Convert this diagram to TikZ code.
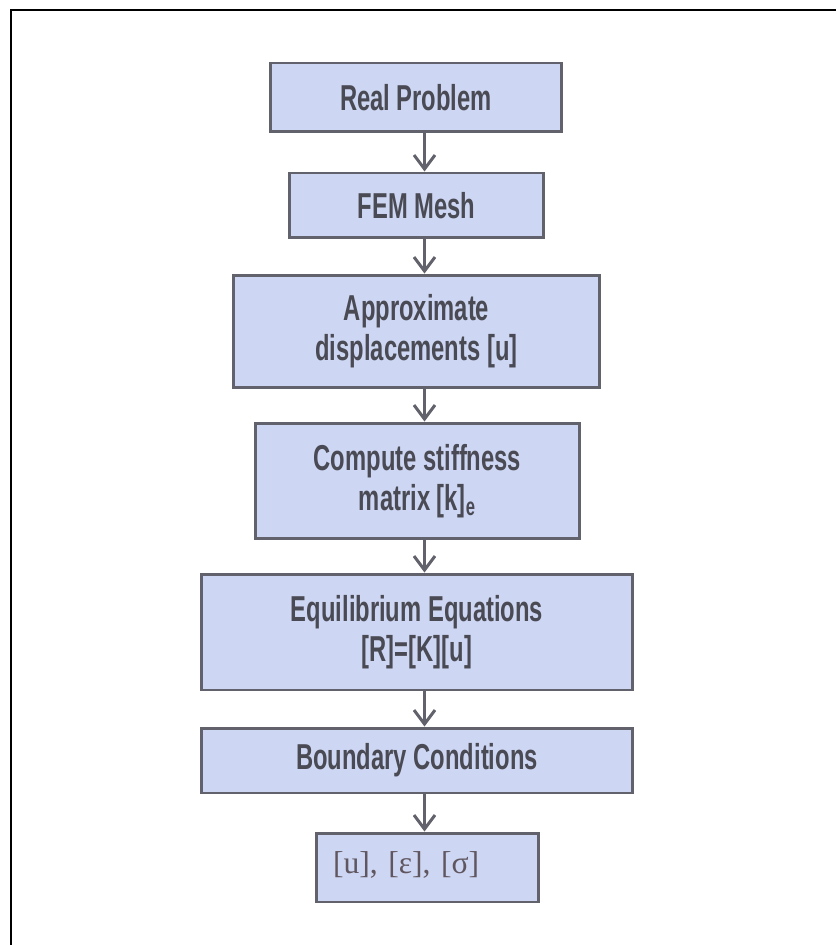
\documentclass[tikz,border=0pt]{standalone}
\usepackage{fontspec}
\usetikzlibrary{arrows.meta}
\newfontfamily\stepfont[FakeStretch=0.66]{Liberation Sans}
\newfontfamily\resfont{Liberation Serif}
\definecolor{BoxClr}{RGB}{205,214,242}
\definecolor{EdgeClr}{RGB}{98,98,108}
\definecolor{TextClr}{RGB}{74,74,84}
\definecolor{ResClr}{RGB}{96,86,96}

\begin{document}
\begin{tikzpicture}[x=0.02cm,y=-0.02cm,
  stepbox/.style={draw=EdgeClr,line width=1.7pt,fill=BoxClr,text=TextClr,
    align=center,inner sep=0pt,
    font=\stepfont\bfseries\fontsize{20.5}{22.7}\selectfont},
  flow/.style={draw=EdgeClr,line width=1.7pt,
    -{Straight Barb[length=0.28cm,width=0.42cm]}}]

\useasboundingbox (0,0) rectangle (836,945);

% Frame (only top and left edges show).
\draw[line width=1.4pt] (11,945) -- (11,10) -- (836,10);

% Steps.
\node[stepbox,minimum width=5.84cm,minimum height=1.38cm] (real) at (416,97.5) {Real Problem};
\node[stepbox,minimum width=5.10cm,minimum height=1.30cm] (mesh) at (416.5,205.5) {FEM Mesh};
\node[stepbox,minimum width=7.34cm,minimum height=2.26cm] (approx) at (416.5,331.5) {Approximate\\displacements [u]};
\node[stepbox,minimum width=6.50cm,minimum height=2.32cm] (stiff) at (417.5,481) {Compute stiffness\\matrix [k]\textsubscript{e}};
\node[stepbox,minimum width=8.64cm,minimum height=2.32cm] (equil) at (417,632) {Equilibrium Equations\\{}[R]=[K][u]};
\node[stepbox,minimum width=8.64cm,minimum height=1.30cm] (bound) at (417,760.5) {Boundary Conditions};
\node[stepbox,minimum height=1.38cm,text width=3.78cm,inner xsep=0.34cm,align=left,
  text=ResClr,font=\resfont\fontsize{18}{20}\selectfont] (result) at (427.5,867.5) {\raisebox{0.2cm}{[u], [ε], [σ]}};

% Arrows run down one column.
\coordinate (spine) at (424.5,0);
\draw[flow] (real.south -| spine) -- (mesh.north -| spine);
\draw[flow] (mesh.south -| spine) -- (approx.north -| spine);
\draw[flow] (approx.south -| spine) -- (stiff.north -| spine);
\draw[flow] (stiff.south -| spine) -- (equil.north -| spine);
\draw[flow] (equil.south -| spine) -- (bound.north -| spine);
\draw[flow] (bound.south -| spine) -- (result.north -| spine);

\end{tikzpicture}
\end{document}
